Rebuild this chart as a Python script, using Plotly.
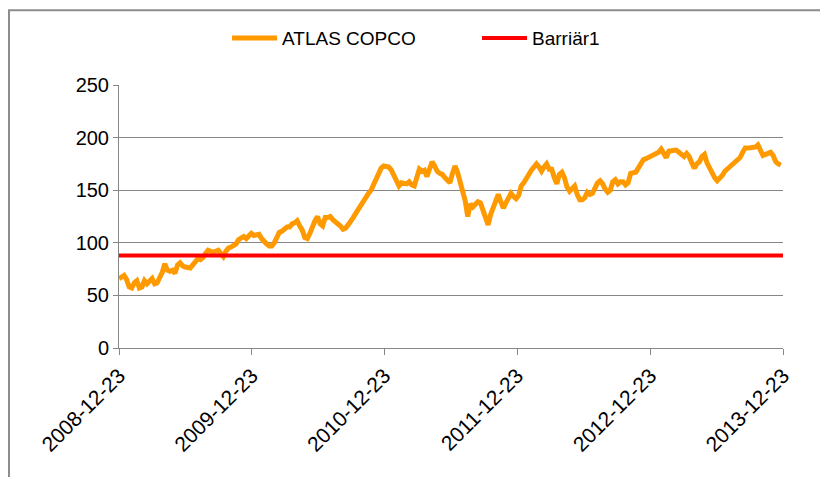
import pandas as pd
import plotly.graph_objects as go

start_date = "2008-12-23"
end_date = "2013-12-23"
tick_labels = ["2008-12-23", "2009-12-23", "2010-12-23", "2011-12-23", "2012-12-23", "2013-12-23"]
y_ticks = [0, 50, 100, 150, 200, 250]

atlas_copco = [
    66, 67, 69, 65, 58, 57, 62, 64, 57, 58,
    64, 61, 63, 66, 61, 62, 67, 72, 80, 74,
    73, 74, 71, 79, 81, 78, 77, 76, 76, 79,
    82, 85, 84, 86, 90, 93, 92, 91, 92, 93,
    90, 87, 92, 95, 96, 97, 99, 103, 104, 106,
    104, 107, 109, 107, 107, 108, 104, 101, 99, 97,
    97, 100, 105, 110, 111, 113, 115, 115, 118, 119,
    121, 116, 112, 105, 104, 109, 117, 121, 125, 118,
    116, 124, 124, 125, 122, 120, 119, 116, 113, 114,
    117, 120, 124, 128, 132, 137, 140, 144, 147, 150,
    155, 160, 166, 171, 173, 173, 172, 169, 163, 158,
    154, 157, 157, 156, 158, 155, 154, 161, 170, 168,
    169, 163, 171, 177, 173, 168, 166, 165, 162, 159,
    157, 166, 173, 167, 158, 150, 140, 125, 137, 134,
    136, 139, 138, 131, 124, 117, 127, 134, 141, 146,
    139, 133, 138, 144, 147, 144, 142, 145, 154, 157,
    162, 165, 169, 172, 175, 172, 168, 172, 175, 170,
    170, 162, 156, 165, 167, 162, 153, 149, 151, 154,
    146, 141, 141, 143, 148, 146, 147, 152, 157, 159,
    156, 151, 148, 150, 158, 160, 156, 158, 158, 155,
    157, 166, 167, 167, 171, 175, 179, 180, 181, 183,
    184, 185, 186, 189, 185, 181, 187, 188, 188, 188,
    186, 184, 182, 185, 182, 176, 171, 175, 177, 182,
    184, 176, 171, 167, 162, 159, 161, 164, 168, 170,
    173, 175, 177, 179, 181, 186, 190, 190, 190, 190,
    191, 193, 188, 183, 184, 185, 186, 183, 177, 175,
    174,
]
barrier_level = 88

dates = pd.date_range(start_date, periods=len(atlas_copco), freq="7D")

fig = go.Figure()
fig.add_trace(go.Scatter(
    x=dates, y=atlas_copco, mode="lines", name="ATLAS COPCO",
    line=dict(color="#FF9900", width=5),
))
fig.add_trace(go.Scatter(
    x=[start_date, end_date], y=[barrier_level, barrier_level], mode="lines", name="Barriär1",
    line=dict(color="#FF0000", width=4),
))

font_family = "Liberation Sans, Arial, sans-serif"

fig.update_layout(
    width=828, height=477,
    margin=dict(l=111, r=53, t=76, b=137),
    paper_bgcolor="white", plot_bgcolor="white",
    font=dict(family=font_family, size=19, color="#000000"),
    showlegend=True,
    legend=dict(
        orientation="h", x=0.1627, xanchor="left", y=1.174, yanchor="middle",
        font=dict(size=19), itemwidth=45, entrywidth=190, entrywidthmode="pixels",
        bgcolor="rgba(0,0,0,0)",
    ),
    xaxis=dict(
        type="date", range=[start_date, end_date],
        tickvals=tick_labels, ticktext=tick_labels, tickangle=-45,
        showgrid=False, showline=True, linecolor="#868686", linewidth=1,
        ticks="outside", ticklen=6, tickcolor="#868686",
        tickfont=dict(size=21), zeroline=False,
    ),
    yaxis=dict(
        range=[0, 250], tickvals=y_ticks, showgrid=True, gridcolor="#868686", gridwidth=1,
        showline=True, linecolor="#868686", linewidth=1,
        ticks="outside", ticklen=5, tickcolor="#868686",
        tickfont=dict(size=20), zeroline=False,
    ),
    shapes=[dict(
        type="rect", xref="paper", yref="paper",
        x0=-0.1657, x1=1.0708, y0=-0.55, y1=1.284,
        line=dict(color="#8c8c8c", width=2), fillcolor="rgba(0,0,0,0)", layer="below",
    )],
)

fig.write_html("out.html")
